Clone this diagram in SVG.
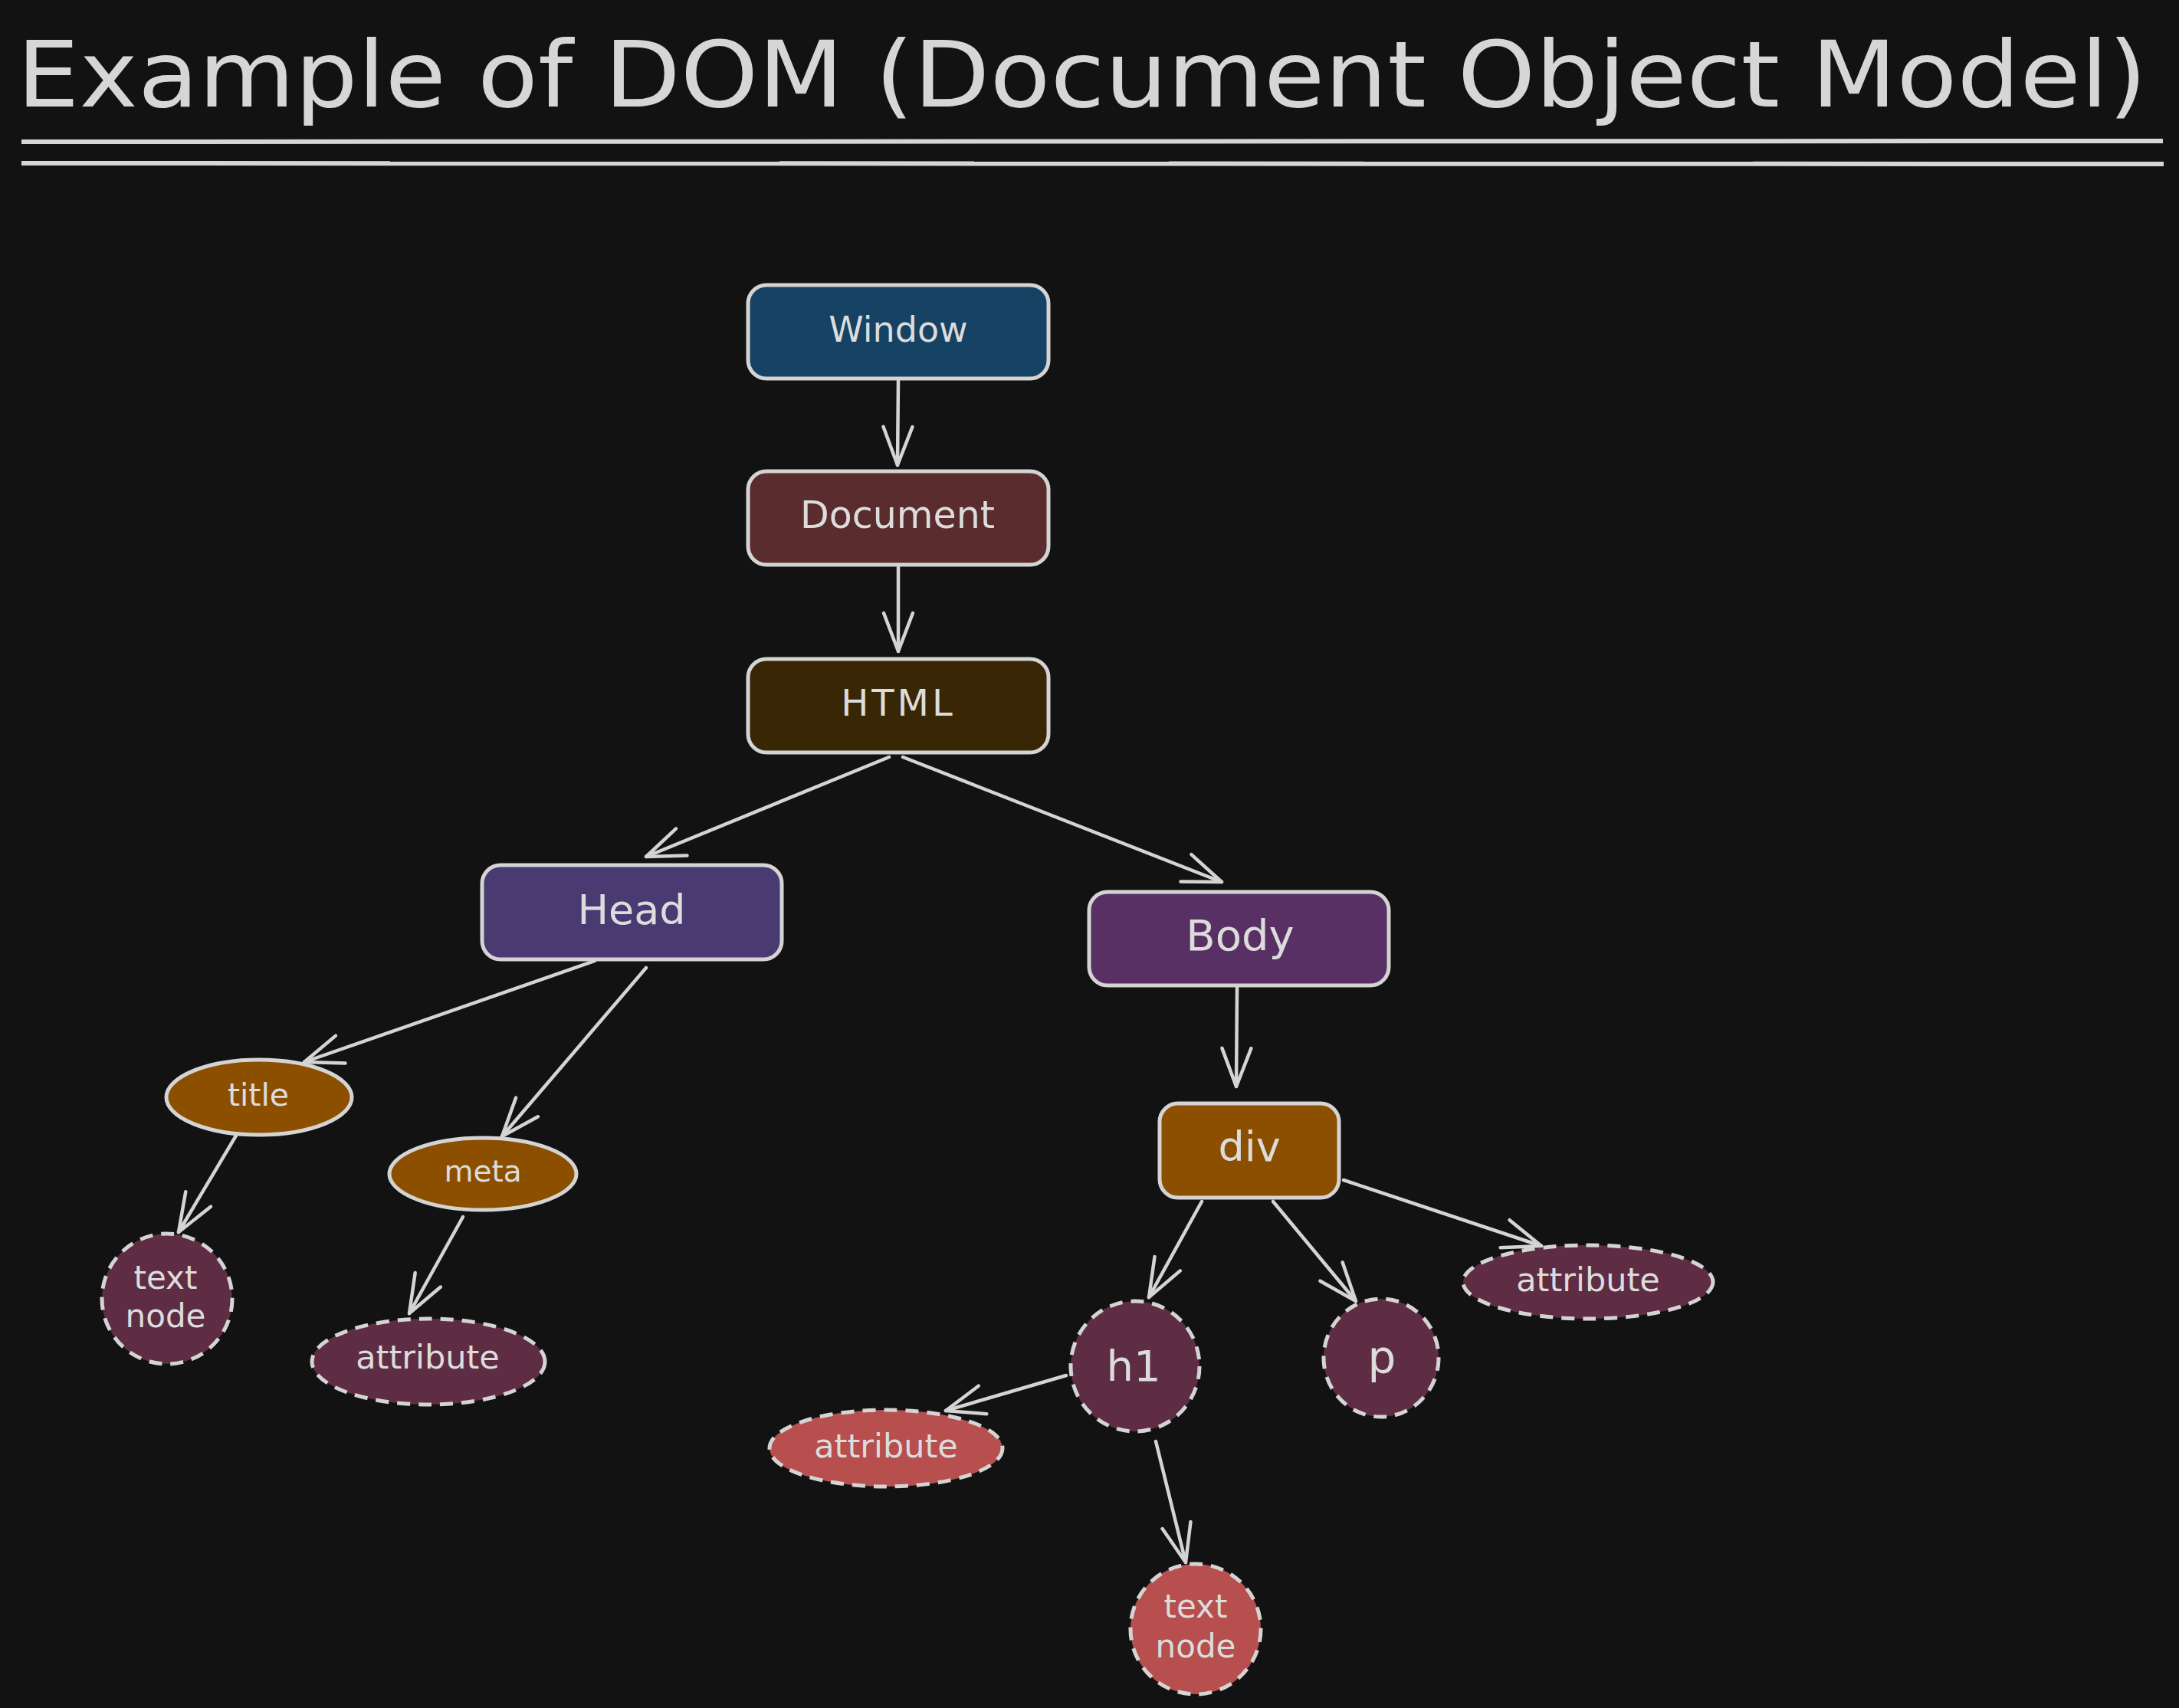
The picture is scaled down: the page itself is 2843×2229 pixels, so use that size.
<svg xmlns="http://www.w3.org/2000/svg" width="2843" height="2229" viewBox="0 0 2843 2229">
<style>
.bg{fill:#121212}
.box{stroke:#d4d4d4;stroke-width:5}
.dash{stroke:#d4d4d4;stroke-width:5;stroke-dasharray:17 11}
.edge{fill:none;stroke:#d4d4d4;stroke-width:4.5;stroke-linecap:round}
.lbl{fill:#dcdcdc;font-family:"DejaVu Sans","Noto Sans",sans-serif;text-anchor:middle}
.title{fill:#d6d6d6;font-family:"DejaVu Sans","Noto Sans",sans-serif}
</style>
<defs>
<marker id="ah" markerUnits="userSpaceOnUse" markerWidth="70" markerHeight="60" viewBox="-60 -30 70 60" refX="0" refY="0" orient="auto">
<path d="M -50,-19 L 0,0 L -50,19" fill="none" stroke="#d4d4d4" stroke-width="4.5" stroke-linecap="round" stroke-linejoin="round"/>
</marker>
</defs>
<rect class="bg" x="0" y="0" width="2843" height="2229"/>

<g id="title">
<text class="title" x="22" y="139" font-size="120" textLength="2779" lengthAdjust="spacingAndGlyphs">Example of DOM (Document Object Model)</text>
<line x1="28" y1="185" x2="2822" y2="184" stroke="#d6d6d6" stroke-width="6"/>
<line x1="28" y1="213" x2="2823" y2="214" stroke="#d6d6d6" stroke-width="6"/>
</g>

<g id="connectors">
<line class="edge" x1="1172" y1="496" x2="1171" y2="607" marker-end="url(#ah)"/>
<line class="edge" x1="1172" y1="740" x2="1172" y2="850" marker-end="url(#ah)"/>
<line class="edge" x1="1160" y1="988" x2="843" y2="1118" marker-end="url(#ah)"/>
<line class="edge" x1="1178" y1="988" x2="1594" y2="1151" marker-end="url(#ah)"/>
<line class="edge" x1="1614" y1="1289" x2="1613" y2="1418" marker-end="url(#ah)"/>
<line class="edge" x1="776" y1="1254" x2="397" y2="1386" marker-end="url(#ah)"/>
<line class="edge" x1="843" y1="1263" x2="655" y2="1483" marker-end="url(#ah)"/>
<line class="edge" x1="308" y1="1482" x2="233" y2="1608" marker-end="url(#ah)"/>
<line class="edge" x1="604" y1="1588" x2="534" y2="1714" marker-end="url(#ah)"/>
<line class="edge" x1="1568" y1="1568" x2="1499" y2="1693" marker-end="url(#ah)"/>
<line class="edge" x1="1661" y1="1568" x2="1769" y2="1698" marker-end="url(#ah)"/>
<line class="edge" x1="1753" y1="1540" x2="2011" y2="1626" marker-end="url(#ah)"/>
<line class="edge" x1="1391" y1="1795" x2="1234" y2="1841" marker-end="url(#ah)"/>
<line class="edge" x1="1508" y1="1881" x2="1547" y2="2039" marker-end="url(#ah)"/>
</g>

<g id="node-window">
<rect class="box" x="976" y="372" width="392" height="122" rx="24" fill="#164263"/>
<text class="lbl" x="1172" y="446" font-size="46">Window</text>
</g>
<g id="node-document">
<rect class="box" x="976" y="615" width="392" height="122" rx="24" fill="#5b2c2e"/>
<text class="lbl" x="1171" y="689" font-size="49">Document</text>
</g>
<g id="node-html">
<rect class="box" x="976" y="860" width="392" height="122" rx="24" fill="#382604"/>
<text class="lbl" x="1172" y="934" font-size="48" letter-spacing="4">HTML</text>
</g>
<g id="node-head">
<rect class="box" x="629" y="1129" width="391" height="123" rx="24" fill="#4a3a72"/>
<text class="lbl" x="824" y="1206" font-size="54">Head</text>
</g>
<g id="node-body">
<rect class="box" x="1421" y="1164" width="391" height="122" rx="24" fill="#593064"/>
<text class="lbl" x="1618" y="1240" font-size="56">Body</text>
</g>
<g id="node-div">
<rect class="box" x="1513" y="1440" width="234" height="123" rx="24" fill="#8c4f00"/>
<text class="lbl" x="1630" y="1515" font-size="54">div</text>
</g>
<g id="node-title">
<ellipse class="box" cx="338" cy="1432" rx="121" ry="49" fill="#8c4f00"/>
<text class="lbl" x="337" y="1443" font-size="41">title</text>
</g>
<g id="node-meta">
<ellipse class="box" cx="630" cy="1532" rx="122" ry="47" fill="#8c4f00"/>
<text class="lbl" x="630" y="1542" font-size="39">meta</text>
</g>
<g id="node-textnode-1">
<ellipse class="dash" cx="218" cy="1695" rx="85" ry="85" fill="#5f2d43"/>
<text class="lbl" x="216" y="1682" font-size="42">text</text>
<text class="lbl" x="216" y="1732" font-size="42">node</text>
</g>
<g id="node-attribute-1">
<ellipse class="dash" cx="559" cy="1777" rx="152" ry="56" fill="#5f2d43"/>
<text class="lbl" x="558" y="1786" font-size="43">attribute</text>
</g>
<g id="node-h1">
<ellipse class="dash" cx="1481" cy="1783" rx="84" ry="85" fill="#5f2d43"/>
<text class="lbl" x="1479" y="1802" font-size="56">h1</text>
</g>
<g id="node-p">
<ellipse class="dash" cx="1802" cy="1772" rx="75" ry="77" fill="#5f2d43"/>
<text class="lbl" x="1803" y="1792" font-size="58">p</text>
</g>
<g id="node-attribute-2">
<ellipse class="dash" cx="2072" cy="1673" rx="163" ry="48" fill="#5f2d43"/>
<text class="lbl" x="2072" y="1685" font-size="43">attribute</text>
</g>
<g id="node-attribute-3">
<ellipse class="dash" cx="1156" cy="1890" rx="152" ry="50" fill="#b64f4e"/>
<text class="lbl" x="1156" y="1902" font-size="43">attribute</text>
</g>
<g id="node-textnode-2">
<ellipse class="dash" cx="1560" cy="2126" rx="85" ry="85" fill="#b64f4e"/>
<text class="lbl" x="1560" y="2111" font-size="42">text</text>
<text class="lbl" x="1560" y="2163" font-size="42">node</text>
</g>
</svg>
